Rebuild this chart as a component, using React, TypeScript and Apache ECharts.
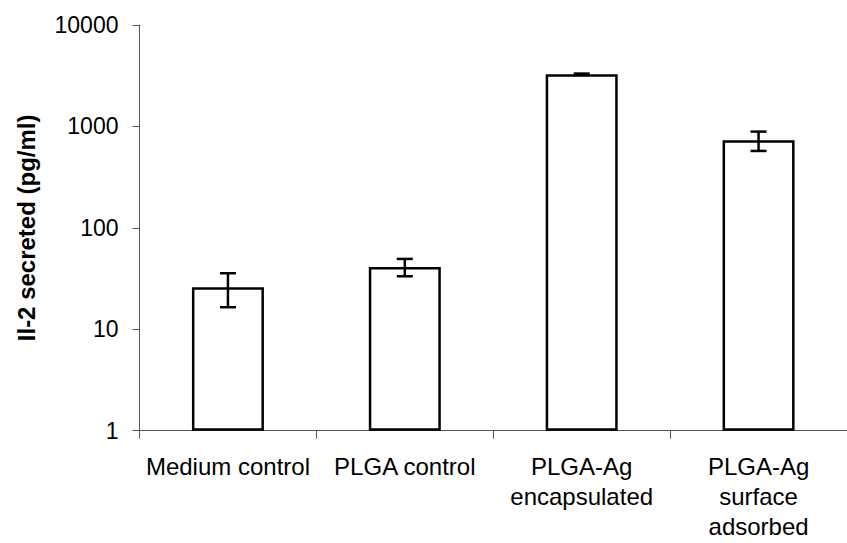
import React, { useEffect, useRef } from "react";
import * as echarts from "echarts";

const categories = ["Medium control", "PLGA control", "PLGA-Ag\nencapsulated", "PLGA-Ag\nsurface\nadsorbed"];
const means = [26, 41, 3270, 730];
const lowErr = [16.5, 33.3, 3220, 573];
const highErr = [35.7, 49.4, 3320, 889];
const yTicks = [1, 10, 100, 1000, 10000];

const FONT = "'Liberation Sans', Arial, sans-serif";

export default function App() {
  const ref = useRef<HTMLDivElement>(null);
  useEffect(() => {
    if (!ref.current) return;
    const chart = echarts.init(ref.current, undefined, { renderer: "svg" });
    const errData = categories.map((_, i) => [i, lowErr[i], highErr[i]]);
    chart.setOption({
      animation: false,
      backgroundColor: "#ffffff",
      grid: { left: 139.5, top: 25, width: 714, height: 405.7, containLabel: false },
      xAxis: {
        type: "category",
        data: categories,
        axisLine: { lineStyle: { color: "#555", width: 1 } },
        axisTick: { show: true, length: 8, lineStyle: { color: "#555" } },
        axisLabel: {
          color: "#000",
          fontSize: 24,
          fontFamily: FONT,
          lineHeight: 30,
          margin: 21,
          interval: 0,
          align: "center",
        },
        splitLine: { show: false },
      },
      yAxis: {
        type: "log",
        logBase: 10,
        min: yTicks[0],
        max: yTicks[yTicks.length - 1],
        interval: 1,
        name: "Il-2 secreted (pg/ml)",
        nameLocation: "middle",
        nameGap: 101,
        nameTextStyle: { color: "#000", fontSize: 24, fontWeight: "bold", fontFamily: FONT },
        axisLine: { show: true, lineStyle: { color: "#555", width: 1 } },
        axisTick: { show: true, length: 7, lineStyle: { color: "#555" } },
        axisLabel: {
          color: "#000",
          fontSize: 23,
          fontFamily: FONT,
          margin: 21,
          formatter: (v: number) => String(Math.round(v)),
        },
        splitLine: { show: false },
      },
      series: [
        {
          type: "bar",
          data: means,
          barWidth: 72,
          itemStyle: { color: "#ffffff", borderColor: "#000", borderWidth: 2.5 },
        },
        {
          type: "custom",
          data: errData,
          z: 10,
          renderItem: (params: any, api: any) => {
            const x = api.value(0);
            const lo = api.coord([x, api.value(1)]);
            const hi = api.coord([x, api.value(2)]);
            const half = 8;
            const style = { stroke: "#000", lineWidth: 2.5 };
            return {
              type: "group",
              children: [
                { type: "line", shape: { x1: lo[0], y1: lo[1], x2: hi[0], y2: hi[1] }, style },
                { type: "line", shape: { x1: lo[0] - half, y1: lo[1], x2: lo[0] + half, y2: lo[1] }, style },
                { type: "line", shape: { x1: hi[0] - half, y1: hi[1], x2: hi[0] + half, y2: hi[1] }, style },
              ],
            };
          },
        },
      ],
    });
    return () => chart.dispose();
  }, []);
  return (
    <div
      ref={ref}
      style={{ position: "absolute", left: 0, top: 0, width: 847, height: 543 }}
    />
  );
}
